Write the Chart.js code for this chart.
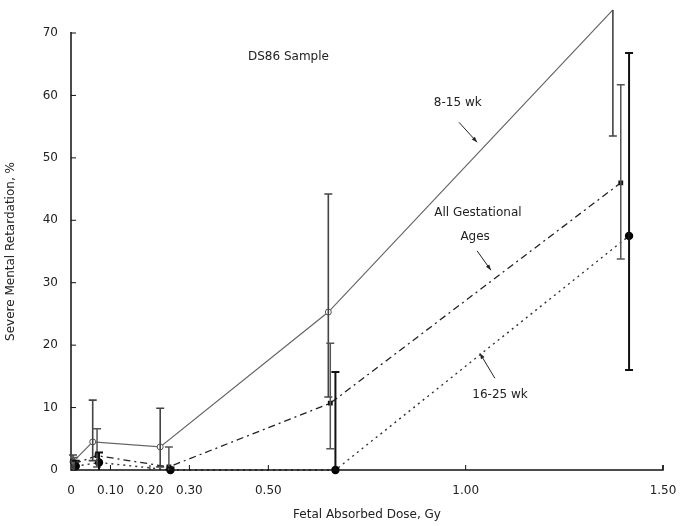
<!DOCTYPE html>
<html>
<head>
<meta charset="utf-8">
<script src="https://cdn.jsdelivr.net/npm/chart.js@4.4.1/dist/chart.umd.min.js"></script>
<style>
  html, body { margin: 0; padding: 0; background: #fff; }
  #wrap { width: 691px; height: 526px; }
</style>
</head>
<body>
<div id="wrap"><canvas id="chart"></canvas></div>
<script>
// dose ticks printed on the original axis
const doseTicks = [0, 0.10, 0.20, 0.30, 0.50, 1.00, 1.50];

// 8-15 wk
const dose815 = [0.005, 0.055, 0.226, 0.652, 1.373];
const pct815 = [1.3, 4.5, 3.7, 25.3, 73.7];
const lo815 = [0, 1.5, 0.5, 11.7, 53.5];
const hi815 = [2.4, 11.2, 9.9, 44.2, 73.7];

// All gestational ages
const doseAll = [0.008, 0.066, 0.248, 0.657, 1.393];
const pctAll = [1.0, 2.3, 0.5, 10.7, 46.0];
const loAll = [0, 0.5, 0, 3.4, 33.8];
const hiAll = [2.0, 6.6, 3.7, 20.3, 61.7];

// 16-25 wk
const dose1625 = [0.012, 0.071, 0.252, 0.670, 1.414];
const pct1625 = [0.6, 1.2, 0, 0, 37.5];
const lo1625 = [0, 0, 0, 0, 16.0];
const hi1625 = [1.5, 2.8, 0.4, 15.7, 66.8];

const FONT = "'DejaVu Sans', sans-serif";
const INK = '#222';

const toPoints = (xs, ys) => xs.map((x, i) => ({ x, y: ys[i] }));

// error bars drawn through the chart scales
const errorBars = [
  { xs: dose815, lo: lo815, hi: hi815, color: '#444', width: 1.6 },
  { xs: doseAll, lo: loAll, hi: hiAll, color: '#555', width: 1.5 },
  { xs: dose1625, lo: lo1625, hi: hi1625, color: '#111', width: 2 }
];

// text notes on the plot, in data units
const notes = [
  { text: 'DS86 Sample', x: 0.551, y: 66.2 },
  { text: '8-15 wk', x: 0.98, y: 58.8 },
  { text: 'All Gestational', x: 1.031, y: 41.2 },
  { text: 'Ages', x: 1.024, y: 37.3 },
  { text: '16-25 wk', x: 1.087, y: 12.0 }
];
const arrows = [
  { from: [0.983, 55.7], to: [1.029, 52.5] },
  { from: [1.029, 35.1], to: [1.064, 32.0] },
  { from: [1.074, 14.7], to: [1.036, 18.7] }
];

const overlay = {
  id: 'overlay',
  afterDatasetsDraw(chart) {
    const { ctx, scales: { x, y } } = chart;
    ctx.save();

    // axes lines with inward ticks
    ctx.strokeStyle = '#111';
    ctx.lineWidth = 1.5;
    ctx.beginPath();
    ctx.moveTo(x.left, y.top - 1);
    ctx.lineTo(x.left, y.bottom);
    ctx.lineTo(x.right, y.bottom);
    ctx.lineTo(x.right, y.bottom - 5);
    ctx.stroke();
    ctx.lineWidth = 1;
    y.ticks.forEach(t => {
      const py = y.getPixelForValue(t.value);
      ctx.beginPath();
      ctx.moveTo(x.left, py);
      ctx.lineTo(x.left + 5, py);
      ctx.stroke();
    });
    doseTicks.slice(1).forEach(v => {
      const px = x.getPixelForValue(v);
      ctx.beginPath();
      ctx.moveTo(px, y.bottom);
      ctx.lineTo(px, y.bottom - 5);
      ctx.stroke();
    });

    // error bars
    errorBars.forEach(s => {
      ctx.strokeStyle = s.color;
      ctx.lineWidth = s.width;
      s.xs.forEach((d, i) => {
        const px = x.getPixelForValue(d);
        const pLo = y.getPixelForValue(s.lo[i]);
        const pHi = y.getPixelForValue(s.hi[i]);
        ctx.beginPath();
        ctx.moveTo(px, pLo);
        ctx.lineTo(px, pHi);
        [s.lo[i], s.hi[i]].forEach(v => {
          if (v > 0 && v <= 70) {
            const pv = y.getPixelForValue(v);
            ctx.moveTo(px - 4, pv);
            ctx.lineTo(px + 4, pv);
          }
        });
        ctx.stroke();
      });
    });

    // notes
    ctx.fillStyle = INK;
    ctx.font = '12px ' + FONT;
    ctx.textAlign = 'center';
    ctx.textBaseline = 'middle';
    notes.forEach(n => ctx.fillText(n.text, x.getPixelForValue(n.x), y.getPixelForValue(n.y)));

    // arrows
    ctx.strokeStyle = INK;
    ctx.lineWidth = 1;
    arrows.forEach(a => {
      const x0 = x.getPixelForValue(a.from[0]), y0 = y.getPixelForValue(a.from[1]);
      const x1 = x.getPixelForValue(a.to[0]), y1 = y.getPixelForValue(a.to[1]);
      const ang = Math.atan2(y1 - y0, x1 - x0);
      ctx.beginPath();
      ctx.moveTo(x0, y0);
      ctx.lineTo(x1, y1);
      ctx.stroke();
      ctx.beginPath();
      ctx.moveTo(x1, y1);
      ctx.lineTo(x1 - 6 * Math.cos(ang - 0.35), y1 - 6 * Math.sin(ang - 0.35));
      ctx.lineTo(x1 - 6 * Math.cos(ang + 0.35), y1 - 6 * Math.sin(ang + 0.35));
      ctx.closePath();
      ctx.fill();
    });

    ctx.restore();
  }
};

new Chart(document.getElementById('chart'), {
  type: 'scatter',
  data: {
    datasets: [
      {
        label: '8-15 wk',
        data: toPoints(dose815, pct815),
        showLine: true,
        clip: false,
        borderColor: '#666',
        borderWidth: 1.2,
        pointStyle: 'circle',
        pointRadius: 3,
        pointBackgroundColor: '#fff',
        pointBorderColor: '#555',
        pointBorderWidth: 1
      },
      {
        label: 'All Gestational Ages',
        data: toPoints(doseAll, pctAll),
        showLine: true,
        clip: false,
        borderColor: '#222',
        borderWidth: 1.3,
        borderDash: [7, 4, 2, 4],
        pointStyle: 'rect',
        pointRadius: 2.5,
        pointBackgroundColor: '#111',
        pointBorderColor: '#111'
      },
      {
        label: '16-25 wk',
        data: toPoints(dose1625, pct1625),
        showLine: true,
        clip: false,
        borderColor: '#333',
        borderWidth: 1.4,
        borderDash: [2, 4],
        pointStyle: 'circle',
        pointRadius: 3.5,
        pointBackgroundColor: '#000',
        pointBorderColor: '#000'
      }
    ]
  },
  options: {
    responsive: true,
    maintainAspectRatio: false,
    animation: false,
    layout: { padding: { top: 33, right: 28, left: 0, bottom: 0 } },
    plugins: {
      legend: { display: false },
      tooltip: { enabled: false }
    },
    scales: {
      x: {
        type: 'linear',
        min: 0,
        max: 1.5,
        afterBuildTicks: scale => { scale.ticks = doseTicks.map(v => ({ value: v })); },
        afterFit: scale => { scale.height = 56; },
        grid: { display: false },
        border: { display: false },
        ticks: {
          autoSkip: false,
          maxRotation: 0,
          padding: 6,
          color: INK,
          font: { family: FONT, size: 12 },
          callback: v => (v === 0 ? '0' : Number(v).toFixed(2))
        },
        title: {
          display: true,
          text: 'Fetal Absorbed Dose, Gy',
          color: INK,
          font: { family: FONT, size: 12 },
          padding: { top: 8 }
        }
      },
      y: {
        min: 0,
        max: 70,
        afterFit: scale => { scale.width = 71; },
        grid: { display: false },
        border: { display: false },
        ticks: {
          stepSize: 10,
          padding: 5,
          color: INK,
          font: { family: FONT, size: 12 }
        },
        title: {
          display: true,
          text: 'Severe Mental Retardation, %',
          color: INK,
          font: { family: FONT, size: 12 },
          padding: { top: 4, bottom: 4 }
        }
      }
    }
  },
  plugins: [overlay]
});
</script>
</body>
</html>
